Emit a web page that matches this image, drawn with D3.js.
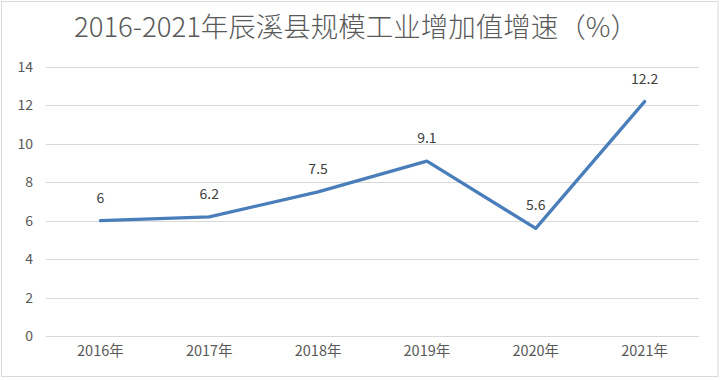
<!DOCTYPE html>
<html><head><meta charset="utf-8">
<script src="https://cdn.jsdelivr.net/npm/d3@7"></script>
<style>body{margin:0;background:#fff;} svg{display:block;}</style>
</head><body>
<script>
const title = "2016-2021年辰溪县规模工业增加值增速（%）";
const categories = ["2016年","2017年","2018年","2019年","2020年","2021年"];
const values = [6, 6.2, 7.5, 9.1, 5.6, 12.2];
const valueLabels = ["6","6.2","7.5","9.1","5.6","12.2"];
const yTicks = [0, 2, 4, 6, 8, 10, 12, 14];

const W = 723, H = 380;
const svg = d3.select("body").append("svg").attr("width", W).attr("height", H);
const font = "'Noto Sans CJK SC', 'Noto Sans', sans-serif";

svg.append("rect").attr("x", 1.5).attr("y", 1.5).attr("width", 716.5).attr("height", 375)
  .attr("fill", "#fff").attr("stroke", "#d9d9d9").attr("stroke-width", 1);

const x = d3.scaleBand().domain(categories).range([46, 699]);
const y = d3.scaleLinear().domain([0, 14]).range([336, 67]);

// gridlines
svg.append("g").selectAll("line").data(yTicks).join("line")
  .attr("x1", 46).attr("x2", 699)
  .attr("y1", d => Math.round(y(d)) + 0.5).attr("y2", d => Math.round(y(d)) + 0.5)
  .attr("stroke", "#d9d9d9").attr("stroke-width", 1);

// y axis labels
const yAxis = d3.axisLeft(y).tickValues(yTicks).tickSize(0).tickPadding(0);
const gy = svg.append("g").attr("transform", "translate(33,0)").call(yAxis);
gy.select(".domain").remove();
gy.selectAll("text").attr("font-family", font).attr("font-size", 14).attr("fill", "#595959");

// x axis labels
const xAxis = d3.axisBottom(x).tickSize(0).tickPadding(0);
const gx = svg.append("g").attr("transform", "translate(0,346)").call(xAxis);
gx.select(".domain").remove();
gx.selectAll("text").attr("font-family", font).attr("font-size", 14.5).attr("fill", "#595959");

// line
const line = d3.line().x((d, i) => x(categories[i]) + x.bandwidth() / 2).y(d => y(d));
svg.append("path").datum(values).attr("d", line)
  .attr("fill", "none").attr("stroke", "#4a7ebb").attr("stroke-width", 3.3)
  .attr("stroke-linejoin", "round").attr("stroke-linecap", "round");

// data labels
svg.append("g").selectAll("text").data(values).join("text")
  .attr("x", (d, i) => x(categories[i]) + x.bandwidth() / 2)
  .attr("y", d => y(d) - 18)
  .attr("text-anchor", "middle")
  .attr("font-family", font).attr("font-size", 14).attr("fill", "#404040")
  .text((d, i) => valueLabels[i]);

// title
svg.append("text").attr("x", 356).attr("y", 37).attr("text-anchor", "middle")
  .attr("font-family", font).attr("font-size", 27.5).attr("font-weight", 300).attr("fill", "#595959")
  .text(title);
</script>
</body></html>
